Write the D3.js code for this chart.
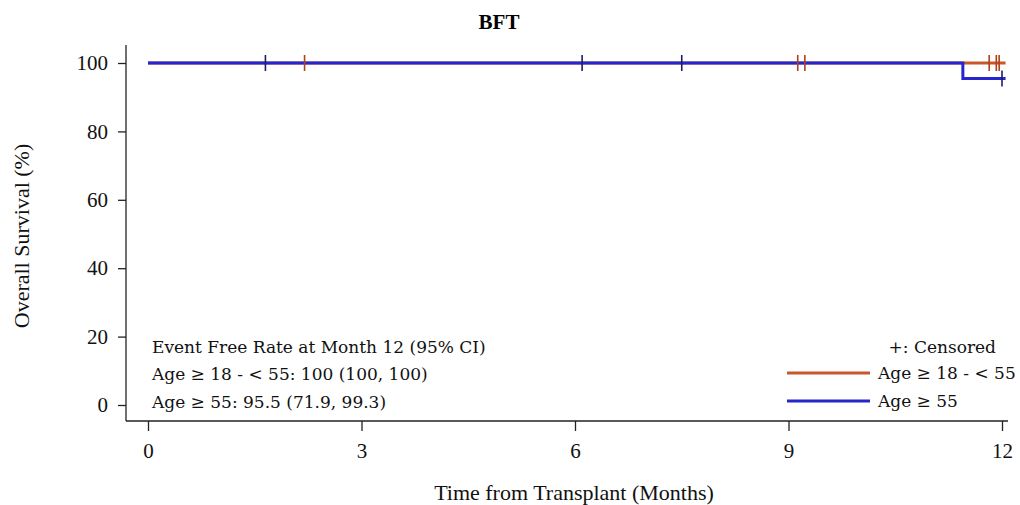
<!DOCTYPE html>
<html><head><meta charset="utf-8">
<script src="https://cdn.jsdelivr.net/npm/d3@7"></script>
<style>body{margin:0;background:#fff}svg{display:block}</style>
</head><body>
<svg id="chart" width="1020" height="505"></svg>
<script>
const xTicks = [0, 3, 6, 9, 12];
const yTicks = [0, 20, 40, 60, 80, 100];
const groupNames = ["Age \u2265 18 - < 55", "Age \u2265 55"];
const groupColors = ["#c8582a", "#2626cc"];
const censorColors = ["#b0401a", "#1c1c70"];
// KM step data (time in months, survival %)
const youngTimes = [0, 12.05];
const youngSurv = [100, 100];
const oldTimes = [0, 11.45, 12.05];
const oldSurv = [100, 95.5, 95.5];
const youngCensor = [2.2, 9.13, 9.23, 11.82, 11.92, 11.96];
const oldCensor = [1.65, 6.1, 7.5, 12.0];
const statsTitle = "Event Free Rate at Month 12 (95% CI)";
const statsLines = ["Age \u2265 18 - < 55: 100 (100, 100)", "Age \u2265 55: 95.5 (71.9, 99.3)"];

const svg = d3.select("#chart");
const font = "DejaVu Serif";
const x = d3.scaleLinear().domain([0, 12]).range([148, 1002]);
const y = d3.scaleLinear().domain([0, 100]).range([405, 63]);

// axes
const xAxis = svg.append("g").attr("transform", "translate(0,421)")
  .call(d3.axisBottom(x).tickValues(xTicks).tickSize(10).tickPadding(12).tickFormat(d3.format("d")));
xAxis.select(".domain").attr("d", "M126,0H1008");
const yAxis = svg.append("g").attr("transform", "translate(126,0)")
  .call(d3.axisLeft(y).tickValues(yTicks).tickSize(8).tickPadding(10).tickFormat(d3.format("d")));
yAxis.select(".domain").attr("d", "M0,45V421");
svg.selectAll(".tick text").attr("font-family", "Liberation Serif").attr("font-size", 21).attr("fill", "#111");
svg.selectAll(".domain, .tick line").attr("stroke", "#222").attr("stroke-width", 1.3);

// title and labels
svg.append("text").attr("x", 499).attr("y", 29).attr("text-anchor", "middle")
  .attr("font-family", "Liberation Serif").attr("font-weight", "bold").attr("font-size", 21).text("BFT");
svg.append("text").attr("x", 574).attr("y", 500).attr("text-anchor", "middle")
  .attr("font-family", "Liberation Serif").attr("font-size", 22).attr("fill", "#111").text("Time from Transplant (Months)");
svg.append("text").attr("transform", "translate(29,236) rotate(-90)").attr("text-anchor", "middle")
  .attr("font-family", "Liberation Serif").attr("font-size", 22).attr("fill", "#111").text("Overall Survival (%)");

// curves
const line = d3.line().x(d => x(d[0])).y(d => y(d[1])).curve(d3.curveStepAfter);
const series = [
  {t: youngTimes, s: youngSurv, c: youngCensor},
  {t: oldTimes, s: oldSurv, c: oldCensor}
];
function survAt(sr, t) { let v = sr.s[0]; sr.t.forEach((tt, i) => { if (tt <= t) v = sr.s[i]; }); return v; }
series.forEach((sr, i) => {
  svg.append("path").datum(sr.t.map((t, j) => [t, sr.s[j]]))
    .attr("d", line).attr("fill", "none").attr("stroke", groupColors[i]).attr("stroke-width", 3);
});
[1, 0].forEach(i => {
  const sr = series[i];
  svg.append("g").selectAll("line").data(sr.c).join("line")
    .attr("x1", d => x(d)).attr("x2", d => x(d))
    .attr("y1", d => y(survAt(sr, d)) - 8).attr("y2", d => y(survAt(sr, d)) + 8)
    .attr("stroke", censorColors[i]).attr("stroke-width", 1.6);
});

// stats text
const st = svg.append("g").attr("font-family", font).attr("font-size", 17).attr("fill", "#111");
st.append("text").attr("x", 152).attr("y", 353).text(statsTitle);
statsLines.forEach((s, i) => st.append("text").attr("x", 152).attr("y", 380 + i * 28).text(s));

// legend
const lg = svg.append("g").attr("font-family", font).attr("font-size", 17).attr("fill", "#111");
lg.append("text").attr("x", 996).attr("y", 353).attr("text-anchor", "end").text("+: Censored");
groupNames.forEach((g, i) => {
  const yy = 373 + i * 28;
  lg.append("line").attr("x1", 787).attr("x2", 870).attr("y1", yy).attr("y2", yy)
    .attr("stroke", groupColors[i]).attr("stroke-width", 3);
  lg.append("text").attr("x", 878).attr("y", yy + 6).text(g);
});
</script>
</body></html>
